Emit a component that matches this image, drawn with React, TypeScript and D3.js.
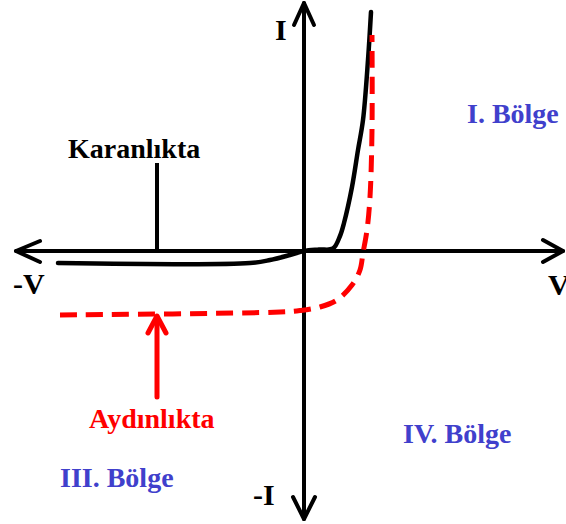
import React from "react";
import * as d3 from "d3";

// Dark (Karanlıkta) I-V curve: [V, I]
const darkCurve: [number, number][] = [
  [-4.92, -0.24], [-1.08, -0.24], [-0.68, -0.18], [-0.28, -0.08], [0, 0],
  [0.3, 0.03], [0.58, 0.05], [0.72, 0.3], [0.8, 0.56], [0.96, 1.28],
  [1.08, 2.02], [1.18, 2.62], [1.28, 3.82], [1.34, 4.78],
];

// Illuminated (Aydınlıkta) I-V curve: [V, I]
const lightCurve: [number, number][] = [
  [-4.88, -1.28], [-0.48, -1.22], [-0.08, -1.19], [0.32, -1.12], [0.66, -0.98],
  [0.96, -0.68], [1.12, -0.38], [1.18, -0.04], [1.26, 0.42], [1.32, 1.08],
  [1.36, 2.42], [1.36, 4.32],
];

const axisV: [number, number] = [-5.76, 5.18];
const axisI: [number, number] = [4.96, -5.36];

type Label = { text: string; v: number; i: number; color: string; size: number };
const labels: Label[] = [
  { text: "I", v: -0.58, i: 4.22, color: "#000", size: 30 },
  { text: "-I", v: -1.02, i: -5.08, color: "#000", size: 30 },
  { text: "-V", v: -5.82, i: -0.86, color: "#000", size: 30 },
  { text: "V", v: 4.88, i: -0.88, color: "#000", size: 30 },
  { text: "Karanlıkta", v: -4.72, i: 1.86, color: "#000", size: 28 },
  { text: "Aydınlıkta", v: -4.3, i: -3.54, color: "#ff0000", size: 28 },
  { text: "I. Bölge", v: 3.26, i: 2.56, color: "#4040cc", size: 28 },
  { text: "IV. Bölge", v: 1.98, i: -3.84, color: "#4040cc", size: 28 },
  { text: "III. Bölge", v: -4.88, i: -4.72, color: "#4040cc", size: 28 },
];

const W = 566;
const H = 524;

export default function App() {
  const x = d3.scaleLinear().domain([0, 1]).range([304, 354]);
  const y = d3.scaleLinear().domain([0, 1]).range([251, 201]);
  const line = d3
    .line<[number, number]>()
    .x((d) => x(d[0]))
    .y((d) => y(d[1]))
    .curve(d3.curveCatmullRom.alpha(0.5));

  const x0 = x(axisV[0]);
  const x1 = x(axisV[1]);
  const y0 = y(axisI[0]);
  const y1 = y(axisI[1]);
  const ox = x(0);
  const oy = y(0);

  // leader lines
  const kx = x(-2.94);
  const arrowX = x(-2.94);
  const arrowTip = y(-1.28);
  const arrowBase = y(-2.92);

  return (
    <svg
      width={W}
      height={H}
      style={{ position: "absolute", left: 0, top: 0, background: "#fff" }}
    >
      <g fill="none" stroke="#000" strokeWidth={4} strokeLinecap="round" strokeLinejoin="round">
        {/* horizontal axis */}
        <line x1={x0} y1={oy} x2={x1} y2={oy} />
        <polyline points={`${x0 + 24},${oy - 10} ${x0},${oy} ${x0 + 24},${oy + 11}`} />
        <polyline points={`${x1 - 20},${oy - 11} ${x1},${oy} ${x1 - 20},${oy + 11}`} />
        {/* vertical axis */}
        <line x1={ox} y1={y0} x2={ox} y2={y1} />
        <polyline points={`${ox - 10},${y0 + 22} ${ox},${y0} ${ox + 10},${y0 + 22}`} />
        <polyline points={`${ox - 11},${y1 - 22} ${ox},${y1} ${ox + 11},${y1 - 22}`} />
        {/* Karanlıkta leader */}
        <line x1={kx} y1={y(1.76)} x2={kx} y2={y(0.02)} strokeLinecap="butt" />
      </g>
      <path d={line(darkCurve) ?? ""} fill="none" stroke="#000" strokeWidth={4.5} strokeLinecap="round" />
      <path
        d={line(lightCurve) ?? ""}
        fill="none"
        stroke="#ff0000"
        strokeWidth={5}
        strokeDasharray="17 9"
      />
      <g fill="none" stroke="#ff0000" strokeWidth={5} strokeLinecap="round" strokeLinejoin="round">
        <line x1={arrowX} y1={arrowBase} x2={arrowX} y2={arrowTip + 2} />
        <polyline points={`${arrowX - 9},${arrowTip + 18} ${arrowX},${arrowTip + 1} ${arrowX + 9},${arrowTip + 18}`} />
      </g>
      {labels.map((l) => (
        <text
          key={l.text}
          x={x(l.v)}
          y={y(l.i)}
          fill={l.color}
          fontFamily="'Liberation Serif', 'Times New Roman', serif"
          fontWeight="bold"
          fontSize={l.size}
        >
          {l.text}
        </text>
      ))}
    </svg>
  );
}
